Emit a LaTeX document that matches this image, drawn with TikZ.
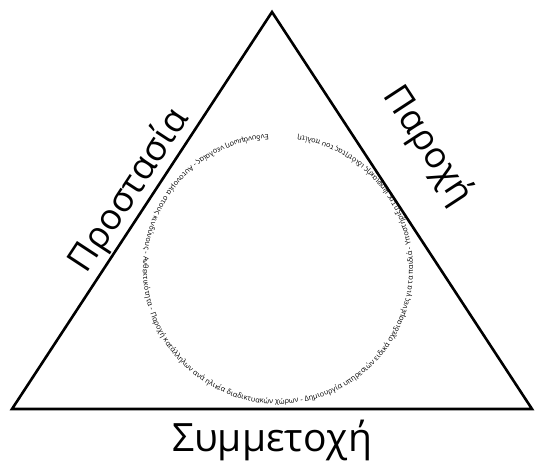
\documentclass[tikz,border=0pt]{standalone}
\usepackage{fontspec}
\setmainfont{Open Sans}
\usetikzlibrary{decorations.text}

\begin{document}
\begin{tikzpicture}[x=1pt,y=1pt,
    edge/.style={draw=black, line width=2.6pt, line join=miter},
    sidetext/.style={font=\fontsize{36}{40}\selectfont, inner sep=2pt},
    ring/.style={decorate, decoration={text along path, text align=fit to path,
        text={|\fontsize{7.3}{8}\selectfont|Ενδυνάμωση νεολαίας - Αυτονομία στους κινδύνους - Ανθεκτικότητα - Παροχή κατάλληλων ανά ηλικία διαδικτυακών χώρων - Δημιουργία υπηρεσιών ειδικά σχεδιασμένες για τα παιδιά - Υποστήριξη της ψηφιακής ιδιότητας του πολίτη}}}
]
    \useasboundingbox (0,0) rectangle (543,462);
    \coordinate (top) at (272,450);
    \coordinate (left) at (12,53);
    \coordinate (right) at (532,53);
    \coordinate (hub) at (278,193);

    \draw [edge] (left) -- (top) -- (right) -- cycle;
    \path (left) -- node [sidetext, sloped, above, pos=0.52] (protect) {Προστασία} (top);
    \node [sidetext, rotate=-56.84] (provide) at (428,316) {Παροχή};
    \node [sidetext, font=\fontsize{39}{42}\selectfont, anchor=base] (take) at (272,10) {Συμμετοχή};

    \path [ring] (hub) ++(94:135) arc [start angle=94, end angle=441.5, radius=135];
\end{tikzpicture}
\end{document}
